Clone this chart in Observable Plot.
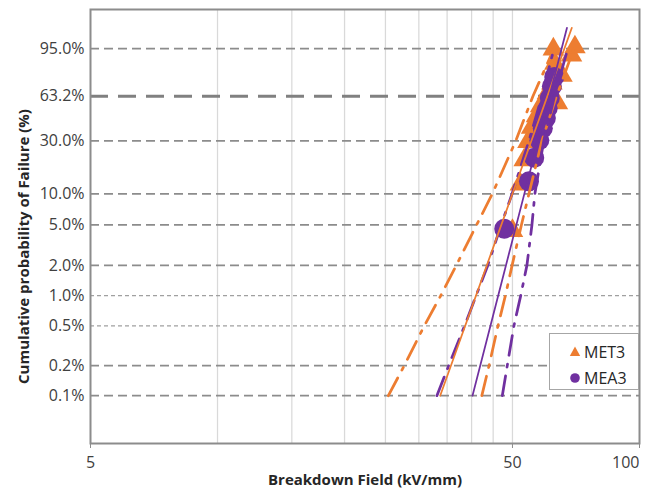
<!DOCTYPE html>
<html>
<head>
<meta charset="utf-8">
<script src="https://cdn.jsdelivr.net/npm/d3@7"></script>
<script src="https://cdn.jsdelivr.net/npm/@observablehq/plot@0.6"></script>
<style>
  html, body { margin: 0; padding: 0; background: #fff; }
  #wrap { position: relative; width: 656px; height: 494px; font-family: "Open Sans", sans-serif; }
  #legend { position: absolute; left: 549px; top: 333px; width: 90px; height: 57px; box-sizing: border-box;
            border: 1px solid #a6a6a6; background: #fff; }
  .lrow { position: absolute; left: 0; height: 20px; display: flex; align-items: center; font-size: 16px; color: #262626; }
  .lrow svg { margin-left: 19px; margin-right: 3px; }
</style>
</head>
<body>
<div id="wrap">
  <div id="chart"></div>
  <div id="legend"></div>
</div>
<script>
// ---- data ----
const seriesNames = ["MET3", "MEA3"];

// probability axis levels (%) and their labels
const probLevels = [0.1, 0.2, 0.5, 1, 2, 5, 10, 30, 63.2, 95];
const probLabels = ["0.1%", "0.2%", "0.5%", "1.0%", "2.0%", "5.0%", "10.0%", "30.0%", "63.2%", "95.0%"];
const fieldGrid = [10, 15, 20, 25, 30, 35, 40, 45, 50];
const fieldTicks = [5, 50, 100];
const fieldTickLabels = ["5", "50", "100"];

// MET3 points (kV/mm, cumulative %)
const met3Field = [50.0, 52.2, 53.3, 54.4, 55.5, 57.0, 58.3, 63.9, 60.5, 62.0, 65.5, 63.0, 62.5, 69.0, 70.3];
const met3Prob  = [4.4, 12.3, 20.5, 29.5, 38.5, 47.0, 55.0, 57.4, 66.0, 74.0, 80.0, 88.0, 94.8, 92.4, 95.5];
// MEA3 points
const mea3Field = [47.8, 54.7, 56.3, 57.9, 59.0, 60.0, 60.6, 61.3, 62.0, 62.8];
const mea3Prob  = [4.6, 13.1, 21.5, 30.4, 38.0, 45.3, 53.1, 61.6, 71.6, 79.0];

// Weibull fit lines (end points)
const fitProb = [0.1, 99.2];
const met3FitField = [33.7, 69.1];
const mea3FitField = [40.2, 67.3];

// confidence bounds
const boundProb = [0.1, 0.2, 0.5, 1, 2, 5, 10, 30, 63.2, 95];
const met3LowerField = [25.4, 27.7, 30.9, 33.8, 36.8, 41.1, 44.8, 50.9, 55.9, 62.7];
const met3UpperField = [42.3, 44.0, 46.2, 48.1, 49.9, 52.5, 54.7, 58.7, 63.6, 69.9];
const mea3LowerField = [33.1, 35.3, 38.5, 41.0, 43.7, 47.0, 49.9, 54.7, 58.7, 62.7];
const mea3UpperField = [47.3, 48.6, 50.4, 52.3, 54.1, 55.6, 56.5, 59.3, 62.9, 67.6];

// ---- build ----
const ORANGE = "#ED7D31", PURPLE = "#7030A0";
const colors = {MET3: ORANGE, MEA3: PURPLE};
const weib = F => Math.log(-Math.log(1 - F / 100));

const pts = (name, xs, ps) => xs.map((v, i) => ({series: name, field: v, Y: weib(ps[i])}));
const met3 = pts("MET3", met3Field, met3Prob);
const mea3 = pts("MEA3", mea3Field, mea3Prob);

const lineRows = (key, series, xs, ps) => xs.map((v, i) => ({key, series, field: v, Y: weib(ps[i])}));
const fits = [
  ...lineRows("met3fit", "MET3", met3FitField, fitProb),
  ...lineRows("mea3fit", "MEA3", mea3FitField, fitProb)
];
const bounds = [
  ...lineRows("met3lo", "MET3", met3LowerField, boundProb),
  ...lineRows("met3hi", "MET3", met3UpperField, boundProb),
  ...lineRows("mea3lo", "MEA3", mea3LowerField, boundProb),
  ...lineRows("mea3hi", "MEA3", mea3UpperField, boundProb)
];

const labelMap = new Map(probLevels.map((p, i) => [weib(p), probLabels[i]]));
const dotted = new Set([0.5, 1]);
const major = new Set([63.2]);
const dashedLevels = probLevels.filter(p => !dotted.has(p) && !major.has(p));
const dottedLevels = probLevels.filter(p => dotted.has(p));
const majorLevels = probLevels.filter(p => major.has(p));
const xLabel = new Map(fieldTicks.map((t, i) => [t, fieldTickLabels[i]]));
const xMax = d3.max(fieldTicks);

const chart = Plot.plot({
  width: 656,
  height: 494,
  marginLeft: 90,
  marginRight: 17,
  marginTop: 9,
  marginBottom: 51,
  x: {type: "log", domain: [5, 100]},
  y: {domain: [-8.01, 2.0]},
  style: {fontFamily: "'Open Sans', sans-serif", background: "#fff", overflow: "visible"},
  marks: [
    Plot.ruleX(fieldGrid, {stroke: "#d9d9d9", strokeWidth: 1.25}),
    Plot.ruleY(dashedLevels.map(weib), {stroke: "#8c8c8c", strokeWidth: 1.75, strokeDasharray: "9,5"}),
    Plot.ruleY(dottedLevels.map(weib), {stroke: "#a0a0a0", strokeWidth: 1.25, strokeDasharray: "4,3"}),
    Plot.ruleY(majorLevels.map(weib), {stroke: "#808080", strokeWidth: 3, strokeDasharray: "18,10"}),
    Plot.frame({stroke: "#8c8c8c", strokeWidth: 2}),
    Plot.dot(met3, {x: "field", y: "Y", symbol: "triangle", r: 8, fill: ORANGE, stroke: "none"}),
    Plot.dot(mea3, {x: "field", y: "Y", symbol: "circle", r: 10, fill: PURPLE, stroke: "none"}),
    Plot.line(bounds, {x: "field", y: "Y", z: "key", stroke: d => colors[d.series],
      strokeWidth: 2.75, strokeDasharray: "20,9,3,9", strokeLinecap: "round"}),
    Plot.line(fits, {x: "field", y: "Y", z: "key", stroke: d => colors[d.series], strokeWidth: 1.75}),
    Plot.axisY(probLevels.map(weib), {tickSize: 0, tickPadding: 6, fontSize: 16, fill: "#404040",
      tickFormat: d => labelMap.get(d), label: null}),
    Plot.axisX(fieldTicks, {tickSize: 5, stroke: "#8c8c8c", text: null, label: null}),
    Plot.text(fieldTicks.filter(t => t < xMax), {x: d => d, text: d => xLabel.get(d), frameAnchor: "bottom",
      dy: 24, fontSize: 16, fill: "#404040"}),
    Plot.text(fieldTicks.filter(t => t >= xMax), {x: d => d, text: d => xLabel.get(d), frameAnchor: "bottom",
      dy: 24, fontSize: 16, fill: "#404040", textAnchor: "end"}),
    Plot.text(["Breakdown Field (kV/mm)"], {frameAnchor: "bottom", dy: 41, fontSize: 15, fontWeight: "bold", fill: "#262626"}),
    Plot.text(["Cumulative probability of Failure (%)"], {frameAnchor: "left", dx: -66, dy: 20, rotate: -90,
      textAnchor: "middle", fontSize: 15, fontWeight: "bold", fill: "#262626"})
  ]
});
document.getElementById("chart").appendChild(chart);

// legend
const legend = document.getElementById("legend");
seriesNames.forEach((name, i) => {
  const row = document.createElement("div");
  row.className = "lrow";
  row.style.top = (8 + i * 26) + "px";
  const icon = name === "MET3"
    ? `<svg width="12" height="12" viewBox="-6 -6 12 12"><path d="M0,-5.5L5.2,4L-5.2,4Z" fill="${colors[name]}"/></svg>`
    : `<svg width="12" height="12" viewBox="-6 -6 12 12"><circle r="4.8" fill="${colors[name]}"/></svg>`;
  row.innerHTML = icon + `<span>${name}</span>`;
  legend.appendChild(row);
});
</script>
</body>
</html>
